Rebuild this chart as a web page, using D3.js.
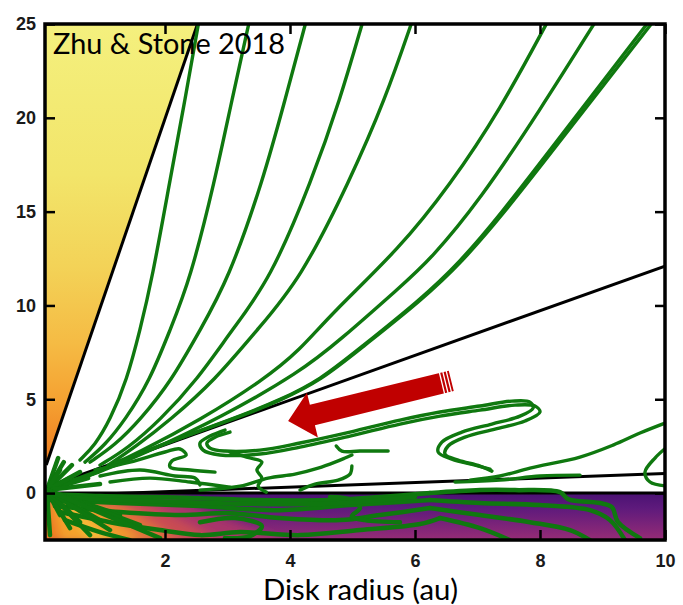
<!DOCTYPE html>
<html>
<head>
<meta charset="utf-8">
<script src="https://cdn.jsdelivr.net/npm/d3@7"></script>
<style>
  body { margin: 0; background: #fff; }
  svg { display: block; }
</style>
</head>
<body>
<svg width="683" height="605"></svg>
<script>
// ---- ticks ----
const xTicks = [2, 4, 6, 8, 10];
const yTicks = [0, 5, 10, 15, 20, 25];

// ---- black boundary lines (au) ----
const steepLine = [[0.1, 1.5], [2.52, 25]];
const wedgeLine = [[0.3, 0.55], [10, 12.1]];
const flatLine = [[0.16, -0.15], [10, 1.05]];
const midLine = [[0.08, 0], [10, 0]];

// ---- open field lines reaching the top ----
const line1 = [[2.55, 25.3], [2.32, 20.95], [2.08, 16.68], [1.79, 11.35], [1.60, 8.69], [1.39, 6.02], [1.12, 3.89], [0.88, 2.56], [0.64, 1.76]];
const line2 = [[3.36, 25.3], [3.07, 20.95], [2.80, 16.68], [2.40, 11.35], [2.08, 8.69], [1.76, 6.02], [1.36, 3.89], [1.04, 2.56], [0.72, 1.65]];
const line3 = [[4.27, 25.3], [3.92, 20.95], [3.57, 16.68], [3.01, 11.35], [2.56, 8.69], [2.11, 6.02], [1.60, 3.89], [1.20, 2.56], [0.80, 1.65]];
const line4 = [[5.18, 25.3], [4.80, 20.95], [4.35, 16.68], [3.68, 11.35], [3.07, 8.69], [2.51, 6.02], [1.92, 3.89], [1.41, 2.40], [0.96, 1.49]];
const line5 = [[5.97, 25.3], [5.52, 20.95], [4.96, 16.68], [4.16, 11.35], [3.47, 8.69], [2.80, 6.02], [2.08, 3.89], [1.52, 2.45], [1.09, 1.49]];
const line6 = [[8.15, 25.3], [7.36, 20.41], [6.56, 16.42], [5.76, 13.06], [4.64, 9.49], [4.16, 7.62], [3.57, 6.02], [2.56, 3.89], [1.60, 2.19], [0.80, 0.96], [0.35, 0.53]];
const line7 = [[8.92, 25.3], [8.0, 20.41], [7.04, 15.62], [6.24, 12.42], [5.76, 10.98], [4.80, 8.15], [4.16, 6.45], [2.88, 4.0], [1.76, 2.25], [0.88, 1.0], [0.35, 0.48]];
const line8a = [[9.78, 25.3], [8.96, 21.75], [8.16, 18.28], [7.36, 14.82], [6.72, 12.31], [6.08, 10.29], [5.12, 7.73], [4.48, 6.02], [3.84, 4.96], [3.20, 4.10], [2.56, 3.33], [1.60, 2.15], [0.80, 0.93], [0.35, 0.43]];
const line8b = [[9.85, 25.3], [9.02, 21.75], [8.21, 18.28], [7.40, 14.82], [6.75, 12.31], [6.11, 10.29], [5.14, 7.73], [4.50, 6.02], [3.86, 4.96], [3.22, 4.10], [2.57, 3.33], [1.61, 2.15], [0.80, 0.93], [0.35, 0.43]];

// ---- folded lines in the wind layer ----
const loopA = [[2.96, 3.36], [2.72, 3.04], [2.56, 2.67], [2.61, 2.29], [2.88, 2.03], [3.52, 2.08], [4.16, 2.45], [4.96, 3.04], [5.76, 3.68], [6.40, 4.10], [7.04, 4.42], [7.60, 4.69], [7.92, 4.64], [8.0, 4.32], [7.76, 3.84], [7.28, 3.41], [6.80, 2.98], [6.53, 2.51], [6.48, 2.08], [6.69, 1.76], [7.04, 1.44], [7.23, 1.17]];
const loopB = [[3.04, 3.25], [2.80, 2.98], [2.67, 2.67], [2.72, 2.40], [2.96, 2.24], [3.52, 2.29], [4.16, 2.67], [4.96, 3.25], [5.76, 3.89], [6.40, 4.32], [7.04, 4.64], [7.55, 4.90], [7.84, 4.85], [7.89, 4.53], [7.68, 4.10], [7.23, 3.68], [6.75, 3.25], [6.43, 2.72], [6.37, 2.19], [6.59, 1.81], [6.96, 1.49], [7.20, 1.28]];
const shortLine = [[4.74, 2.51], [4.83, 2.24], [5.12, 2.24], [5.57, 2.24]];
const squiggle1 = [[0.88, 1.23], [1.44, 1.65], [2.0, 2.19], [2.24, 2.35], [2.34, 2.03], [2.11, 1.71], [2.08, 1.39], [2.40, 1.23], [2.80, 1.12]];
const squiggle2 = [[0.96, 0.91], [1.60, 1.23], [2.16, 0.91], [2.48, 0.80], [2.56, 0.43]];
const squiggle3 = [[3.04, 2.19], [3.36, 1.87], [3.55, 1.65], [3.47, 1.23], [3.55, 0.80], [3.49, 0.37], [3.62, 0.05]];
const squiggle4 = [[2.56, 0.16], [3.20, 0.37], [3.65, 0.80], [4.08, 1.01], [4.45, 1.33], [4.72, 1.65], [4.88, 1.87], [4.99, 2.03]];
const squiggle5 = [[4.16, 0.16], [4.40, 0.48], [4.77, 0.69], [4.96, 1.01], [4.99, 1.44]];
const squiggle6 = [[1.12, 0.59], [1.76, 0.80], [2.40, 0.59], [3.04, 0.32]];
const outer1 = [[6.88, 0.69], [7.36, 0.91], [7.84, 1.33], [8.64, 1.92], [9.17, 2.56], [9.60, 3.20], [10.05, 3.79]];
const outer2 = [[6.64, 0.59], [7.36, 0.69], [8.0, 0.91], [8.64, 0.96]];
const outer3 = [[10.05, 2.51], [9.84, 1.87], [9.68, 1.12], [9.76, 0.59], [10.05, 0.37]];

// ---- lines inside the disk (below the midplane) ----
const disk1 = [[6.24, 0], [7.04, 0.16], [7.60, 0.16], [8.32, 0.05], [8.45, -0.32], [8.96, -0.53], [9.15, -0.75], [9.25, -1.55], [9.60, -2.40]];
const disk2 = [[6.24, -0.37], [7.04, -0.53], [8.0, -0.64], [8.80, -0.91], [9.12, -1.44], [9.36, -2.51]];
const disk3 = [[6.24, -0.80], [7.04, -1.17], [7.84, -1.55], [8.48, -1.97], [8.80, -2.51]];
const disk4 = [[6.40, -1.33], [7.04, -1.87], [7.52, -2.51]];
const disk5 = [[0.11, -0.05], [0.96, -0.16], [1.76, -0.21], [2.56, -0.27], [3.52, -0.37], [4.64, -0.37], [5.44, -0.21], [6.24, 0]];
const disk6 = [[0.16, -0.37], [1.28, -0.53], [2.56, -0.69], [3.84, -0.91], [4.96, -0.64], [5.76, -0.48], [6.24, -0.37]];
const disk7 = [[0.24, -0.69], [1.28, -1.01], [2.24, -1.17], [3.04, -1.07], [3.84, -1.33], [4.80, -1.44], [5.44, -1.17], [6.24, -0.80]];
const disk8 = [[0.32, -1.01], [1.12, -1.55], [1.92, -1.97], [2.56, -2.24], [3.20, -2.08], [4.16, -2.24], [5.12, -1.97], [6.08, -1.65], [6.40, -1.33]];
const disk9 = [[0.40, -1.44], [0.96, -2.08], [1.44, -2.51]];
const disk10 = [[4.64, -0.21], [4.99, -0.37], [5.12, -0.80], [4.99, -1.23], [5.20, -1.44], [5.76, -1.55]];
const disk11 = [[2.56, -1.55], [3.12, -1.33], [3.55, -1.76], [3.36, -2.29], [2.96, -2.40]];
const disk12 = [[0.2, -0.2], [1.0, -0.34], [2.0, -0.45], [3.0, -0.55], [4.0, -0.6], [5.0, -0.5], [6.0, -0.2]];

// ---- short spikes around the star ----
const origin = [0.11, 0.16];
const spikeEnds = [[0.29, 1.87], [0.38, 1.65], [0.51, 1.49], [0.64, 1.12], [0.77, 0.80], [0.48, 0.80], [0.96, 0.48], [0.32, 1.23],
  [0.32, -1.17], [0.48, -1.87], [0.64, -1.55], [0.80, -2.24], [0.96, -1.44], [1.12, -1.97], [0.16, -2.24], [1.28, -1.17], [1.60, -1.71], [1.92, -2.40]];

// ---- colour fields ----
const polarWedge = [[0.08, 25], [2.52, 25], [0.1, 1.5], [0.08, 1.3]];
const polarStops = [[25, '#f4f07e'], [17, '#f2e56a'], [12, '#f3d257'], [8, '#f5bb44'], [5, '#f5a232'], [2.5, '#f08624'], [1.3, '#ec7a20']];
const diskStops = [[0, '#4a1273'], [-0.8, '#5e1a7c'], [-2.5, '#962c76']];
const bandTopX = [0.08, 0.15, 0.3, 0.5, 0.8, 1.2, 1.6, 2.2];
const bandBotX = [0.08, 0.35, 0.8, 1.2, 1.7, 2.3, 3.0, 4.0];
const bandColors = ['#ee7a22', '#f5a02a', '#f8bb34', '#f29a2e', '#e2703a', '#c94b52', '#a8366a'];

// ---- arrow (au) ----
const arrowTail = [6.58, 5.98];
const arrowTip = [3.97, 3.84];

const svg = d3.select('svg');
const x = d3.scaleLinear().domain([0.08, 10]).range([45, 665]);
const y = d3.scaleLinear().domain([-2.5, 25]).range([540, 24]);
const green = '#0f780f';

const defs = svg.append('defs');
defs.append('clipPath').attr('id', 'plot')
  .append('rect').attr('x', x(0.08)).attr('y', y(25)).attr('width', x(10) - x(0.08)).attr('height', y(-2.5) - y(25));
defs.append('clipPath').attr('id', 'disk')
  .append('rect').attr('x', x(0.08)).attr('y', y(0)).attr('width', x(10) - x(0.08)).attr('height', y(-2.5) - y(0));
defs.append('filter').attr('id', 'soft').attr('x', '-10%').attr('y', '-10%').attr('width', '120%').attr('height', '120%')
  .append('feGaussianBlur').attr('stdDeviation', 5);

function vGrad(id, stops) {
  const g = defs.append('linearGradient').attr('id', id)
    .attr('gradientUnits', 'userSpaceOnUse')
    .attr('x1', 0).attr('x2', 0).attr('y1', y(stops[0][0])).attr('y2', y(stops[stops.length - 1][0]));
  const y0 = y(stops[0][0]), y1 = y(stops[stops.length - 1][0]);
  stops.forEach(s => {
    g.append('stop').attr('offset', (y(s[0]) - y0) / (y1 - y0)).attr('stop-color', s[1]);
  });
}
vGrad('polarGrad', polarStops);
vGrad('diskGrad', diskStops);

const plot = svg.append('g').attr('clip-path', 'url(#plot)');

// coloured backgrounds
plot.append('path')
  .attr('d', 'M' + polarWedge.map(p => [x(p[0]), y(p[1])].join(',')).join('L') + 'Z')
  .attr('fill', 'url(#polarGrad)');

const diskG = plot.append('g').attr('clip-path', 'url(#disk)');
diskG.append('rect')
  .attr('x', x(0.08)).attr('y', y(0)).attr('width', x(10) - x(0.08)).attr('height', y(-2.5) - y(0))
  .attr('fill', 'url(#diskGrad)');
diskG.append('g').attr('filter', 'url(#soft)')
  .selectAll('path').data(bandColors).join('path')
  .attr('d', (c, i) => {
    const pts = [[bandTopX[i], -0.3], [bandTopX[i + 1], -0.3], [bandBotX[i + 1], -2.7], [bandBotX[i], -2.7]];
    if (i === 0) { pts[0] = [-0.2, -0.1]; pts[3] = [-0.2, -2.7]; }
    return 'M' + pts.map(p => [x(p[0]), y(p[1])].join(',')).join('L') + 'Z';
  })
  .attr('fill', d => d);

// black boundaries
const straight = d3.line().x(d => x(d[0])).y(d => y(d[1]));
plot.selectAll('.bound').data([steepLine, wedgeLine, flatLine, midLine]).join('path')
  .attr('class', 'bound')
  .attr('d', straight)
  .attr('fill', 'none').attr('stroke', '#000').attr('stroke-width', 3);

// field lines: smooth open lines, folded lines through their points
const smooth = d3.line().x(d => x(d[0])).y(d => y(d[1])).curve(d3.curveBasis);
const curve = d3.line().x(d => x(d[0])).y(d => y(d[1])).curve(d3.curveCatmullRom.alpha(0.5));
const open = [line1, line2, line3, line4, line5, line6, line7, line8a, line8b];
const folded = [loopA, loopB, shortLine, squiggle1, squiggle2, squiggle3, squiggle4, squiggle5, squiggle6,
  outer1, outer2, outer3];
const inDisk = [disk1, disk2, disk3, disk4, disk5, disk6, disk7, disk8, disk9, disk10, disk11, disk12];

function drawLines(cls, data, gen, width) {
  plot.selectAll('.' + cls).data(data).join('path')
    .attr('class', cls)
    .attr('d', gen)
    .attr('fill', 'none').attr('stroke', green).attr('stroke-width', width)
    .attr('stroke-linejoin', 'round').attr('stroke-linecap', 'round');
}
drawLines('open', open, smooth, 3.4);
drawLines('folded', folded, curve, 3.4);
drawLines('disk', inDisk, curve, 4.5);

plot.selectAll('.spike').data(spikeEnds).join('line')
  .attr('class', 'spike')
  .attr('x1', x(origin[0])).attr('y1', y(origin[1]))
  .attr('x2', d => x(d[0])).attr('y2', d => y(d[1]))
  .attr('stroke', green).attr('stroke-width', 4.5).attr('stroke-linecap', 'round');

// red arrow
const p0 = [x(arrowTail[0]), y(arrowTail[1])];
const p1 = [x(arrowTip[0]), y(arrowTip[1])];
const len = Math.hypot(p1[0] - p0[0], p1[1] - p0[1]);
const u = [(p1[0] - p0[0]) / len, (p1[1] - p0[1]) / len];
const n = [-u[1], u[0]];
const hw = 10.5, HW = 23, HL = 25;
const at = (s, t) => [p0[0] + u[0] * s + n[0] * t, p0[1] + u[1] * s + n[1] * t];
const arrowPts = [at(0, hw), at(len - HL, hw), at(len - HL, HW), at(len, 0), at(len - HL, -HW), at(len - HL, -hw), at(0, -hw)];
svg.append('path')
  .attr('d', 'M' + arrowPts.join('L') + 'Z')
  .attr('fill', '#c00000');
svg.selectAll('.stripe').data([2.5, 6, 9.5]).join('line')
  .attr('class', 'stripe')
  .attr('x1', s => at(s, hw + 1)[0]).attr('y1', s => at(s, hw + 1)[1])
  .attr('x2', s => at(s, -hw - 1)[0]).attr('y2', s => at(s, -hw - 1)[1])
  .attr('stroke', '#fff').attr('stroke-width', 1.3);

// frame and axes (ticks point inward on all four sides)
svg.append('rect')
  .attr('x', x(0.08)).attr('y', y(25)).attr('width', x(10) - x(0.08)).attr('height', y(-2.5) - y(25))
  .attr('fill', 'none').attr('stroke', '#000').attr('stroke-width', 3.5);

function styleAxis(g) {
  g.select('.domain').remove();
  g.selectAll('.tick line').attr('stroke', '#000').attr('stroke-width', 2.5);
  g.selectAll('.tick text')
    .attr('fill', '#1a1a1a')
    .style('font-family', '"Liberation Sans", Arial, sans-serif')
    .style('font-weight', 'bold')
    .style('font-size', '18px');
}
svg.append('g').attr('transform', `translate(0,${y(-2.5)})`)
  .call(d3.axisBottom(x).tickValues(xTicks).tickSize(-10).tickPadding(14).tickFormat(d3.format('d')))
  .call(styleAxis);
svg.append('g').attr('transform', `translate(0,${y(25)})`)
  .call(d3.axisTop(x).tickValues(xTicks).tickSize(-10).tickFormat(''))
  .call(styleAxis);
svg.append('g').attr('transform', `translate(${x(0.08)},0)`)
  .call(d3.axisLeft(y).tickValues(yTicks).tickSize(-10).tickPadding(9).tickFormat(d3.format('d')))
  .call(styleAxis);
svg.append('g').attr('transform', `translate(${x(10)},0)`)
  .call(d3.axisRight(y).tickValues(yTicks).tickSize(-10).tickFormat(''))
  .call(styleAxis);

// texts
svg.append('text')
  .attr('x', 53).attr('y', 54)
  .attr('textLength', 232).attr('lengthAdjust', 'spacingAndGlyphs')
  .style('font-family', 'Lato, "Open Sans", sans-serif')
  .style('font-size', '28px')
  .attr('fill', '#000')
  .text('Zhu & Stone 2018');

svg.append('text')
  .attr('x', 263).attr('y', 600)
  .attr('textLength', 195).attr('lengthAdjust', 'spacingAndGlyphs')
  .style('font-family', 'Lato, "Open Sans", sans-serif')
  .style('font-size', '28px')
  .attr('fill', '#000')
  .text('Disk radius (au)');
</script>
</body>
</html>
